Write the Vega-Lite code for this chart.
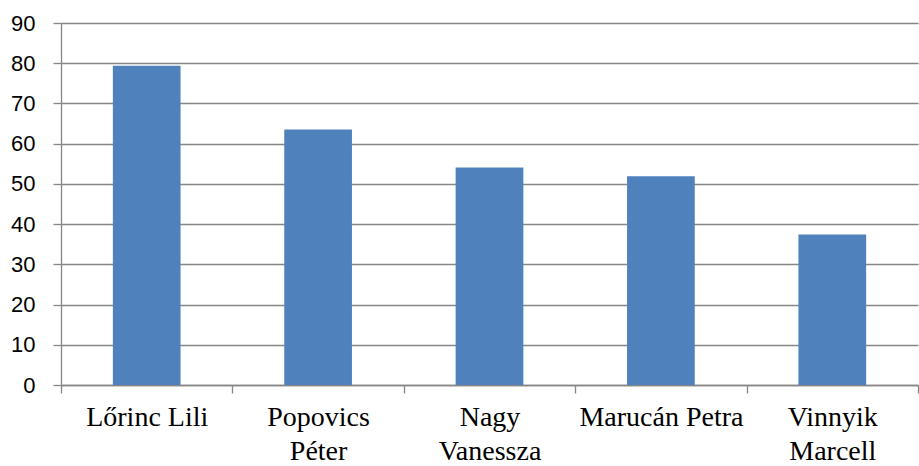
{
  "$schema": "https://vega.github.io/schema/vega-lite/v6.json",
  "autosize": {"type": "none"},
  "padding": {"left": 61, "top": 23, "right": 1, "bottom": 81},
  "width": 857,
  "height": 362,
  "background": "white",
  "data": {"values": [
    {"name": "Lőrinc Lili", "value": 79.4},
    {"name": "Popovics Péter", "value": 63.5},
    {"name": "Nagy Vanessza", "value": 54.1},
    {"name": "Marucán Petra", "value": 51.9},
    {"name": "Vinnyik Marcell", "value": 37.4}
  ]},
  "mark": {"type": "bar", "color": "#4F81BD", "width": {"band": 0.395}},
  "encoding": {
    "x": {
      "field": "name", "type": "nominal", "sort": null,
      "scale": {"paddingInner": 0, "paddingOuter": 0},
      "axis": {
        "title": null, "labelAngle": 0, "tickBand": "extent",
        "labelFont": "Liberation Serif", "labelFontSize": 28, "labelColor": "#000000",
        "labelLineHeight": 34, "labelPadding": 10, "labelBaseline": "top",
        "labelExpr": "!datum.value ? '' : (datum.value == 'Lőrinc Lili' || datum.value == 'Marucán Petra' ? datum.value : split(datum.value, ' '))",
        "domainColor": "#868686", "domainWidth": 1.3, "tickColor": "#868686", "tickWidth": 1.3, "tickSize": 8,
        "grid": false
      }
    },
    "y": {
      "field": "value", "type": "quantitative",
      "scale": {"domain": [0, 90], "nice": false},
      "axis": {
        "title": null, "values": [0,10,20,30,40,50,60,70,80,90],
        "labelFont": "Liberation Sans", "labelFontSize": 22, "labelColor": "#000000", "labelPadding": 18,
        "domainColor": "#868686", "domainWidth": 1.3, "tickColor": "#868686", "tickWidth": 1.3, "tickSize": 8,
        "grid": true, "gridColor": "#868686", "gridWidth": 1.3
      }
    }
  },
  "config": {"view": {"stroke": null}}
}
